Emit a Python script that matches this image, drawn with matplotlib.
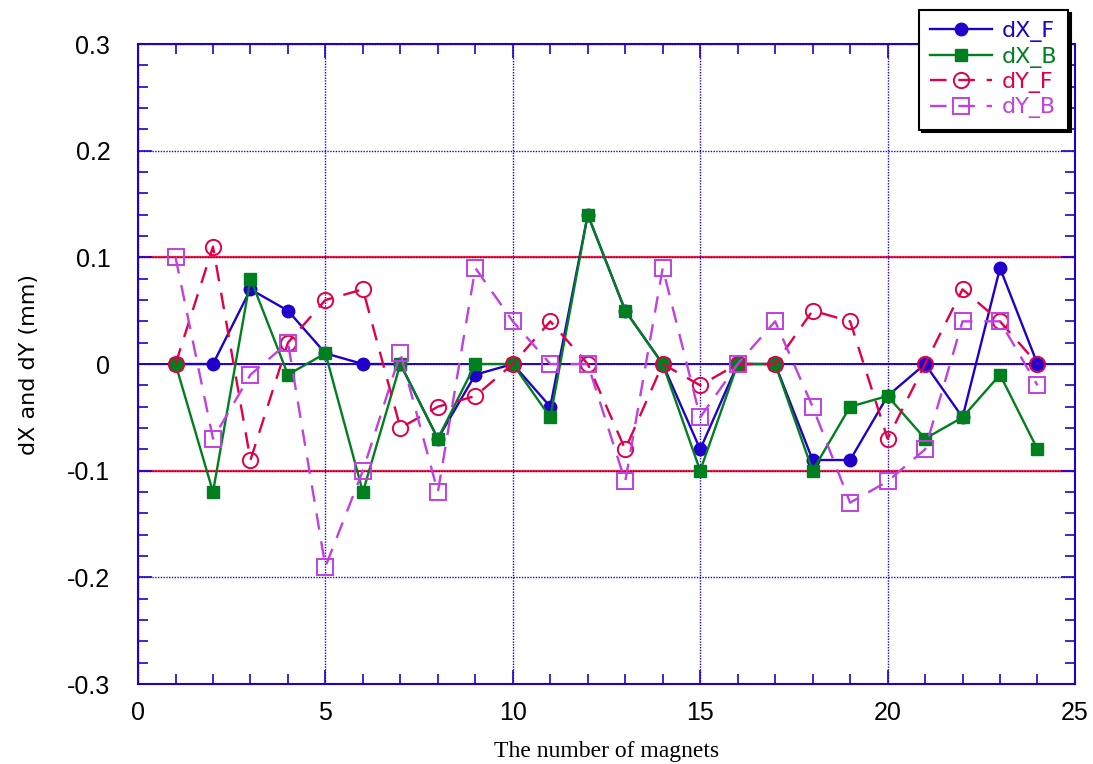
import matplotlib
matplotlib.use('Agg')
import matplotlib.pyplot as plt
from matplotlib.ticker import MultipleLocator

magnets = list(range(1, 25))
dx_f = [0, 0, 0.07, 0.05, 0.01, 0, 0, -0.07, -0.01, 0, -0.04, 0.14,
        0.05, 0, -0.08, 0, 0, -0.09, -0.09, -0.03, 0, -0.05, 0.09, 0]
dx_b = [0, -0.12, 0.08, -0.01, 0.01, -0.12, 0, -0.07, 0, 0, -0.05, 0.14,
        0.05, 0, -0.10, 0, 0, -0.10, -0.04, -0.03, -0.07, -0.05, -0.01, -0.08]
dy_f = [0, 0.11, -0.09, 0.02, 0.06, 0.07, -0.06, -0.04, -0.03, 0, 0.04, 0,
        -0.08, 0, -0.02, 0, 0, 0.05, 0.04, -0.07, 0, 0.07, 0.04, 0]
dy_b = [0.10, -0.07, -0.01, 0.02, -0.19, -0.10, 0.01, -0.12, 0.09, 0.04, 0, 0,
        -0.11, 0.09, -0.05, 0, 0.04, -0.04, -0.13, -0.11, -0.08, 0.04, 0.04, -0.02]
limit = 0.1

blue = '#2200CC'
green = '#007F1F'
red = '#E0004A'
magenta = '#C040E0'

fig = plt.figure(figsize=(10.93, 7.64), dpi=100)
ax = fig.add_axes([0.1263, 0.1047, 0.8572, 0.8377])

# grid and reference lines
ax.grid(True, which='major', color=blue, linestyle=(0, (1, 1)), linewidth=1)
ax.axhline(0, color=blue, linewidth=1.4, zorder=1.5)
ax.axhline(limit, color='#FF2038', linewidth=1.6, zorder=1.5)
ax.axhline(-limit, color='#FF2038', linewidth=1.6, zorder=1.5)

dash = (0, (7, 5))
ax.plot(magnets, dx_f, color=blue, marker='o', markersize=9, linewidth=1.7,
        label='dX_F', zorder=3)
ax.plot(magnets, dx_b, color=green, marker='s', markersize=8.5, linewidth=1.7,
        label='dX_B', zorder=3)
ax.plot(magnets, dy_f, color=red, marker='o', markersize=11, linewidth=1.7,
        markerfacecolor='none', markeredgewidth=1.4, linestyle=dash,
        label='dY_F', zorder=3)
ax.plot(magnets, dy_b, color=magenta, marker='s', markersize=11, linewidth=1.7,
        markerfacecolor='none', markeredgewidth=1.4, linestyle=dash,
        label='dY_B', zorder=3)

ax.set_xlim(0, 25)
ax.set_ylim(-0.3, 0.3)
ax.xaxis.set_major_locator(MultipleLocator(5))
ax.xaxis.set_minor_locator(MultipleLocator(1))
ax.yaxis.set_major_locator(MultipleLocator(0.1))
ax.yaxis.set_minor_locator(MultipleLocator(0.02))
ax.set_yticks([-0.3, -0.2, -0.1, 0, 0.1, 0.2, 0.3])
ax.set_yticklabels(['-0.3', '-0.2', '-0.1', '0', '0.1', '0.2', '0.3'])

for s in ax.spines.values():
    s.set_color(blue)
    s.set_linewidth(1.5)
ax.tick_params(which='both', direction='in', colors=blue, top=True, right=True,
               labelcolor='black', labelsize=18)
ax.tick_params(axis='y', pad=20)
ax.tick_params(axis='x', pad=12)
ax.tick_params(which='major', length=10, width=1.2)
ax.tick_params(which='minor', length=7, width=1.2)
for lab in ax.get_xticklabels() + ax.get_yticklabels():
    lab.set_family('Liberation Sans')

ax.set_ylabel('dX and dY (mm)', fontsize=16, family='DejaVu Sans', labelpad=20)
ax.set_xlabel('The number of magnets', fontsize=17, family='Liberation Serif',
              labelpad=12)

leg = ax.legend(loc='upper right', bbox_to_anchor=(1068 / 1093, 1 - 10 / 764),
                bbox_transform=fig.transFigure, borderaxespad=0, fontsize=16,
                labelcolor='linecolor', handlelength=2.8, handletextpad=0.4,
                labelspacing=0.2, borderpad=0.5, fancybox=False, framealpha=1,
                shadow={'color': 'black', 'alpha': 1})
leg.get_frame().set_edgecolor('black')
leg.get_frame().set_linewidth(1.5)
leg.set_zorder(10)

fig.savefig('out.png', dpi=100)
